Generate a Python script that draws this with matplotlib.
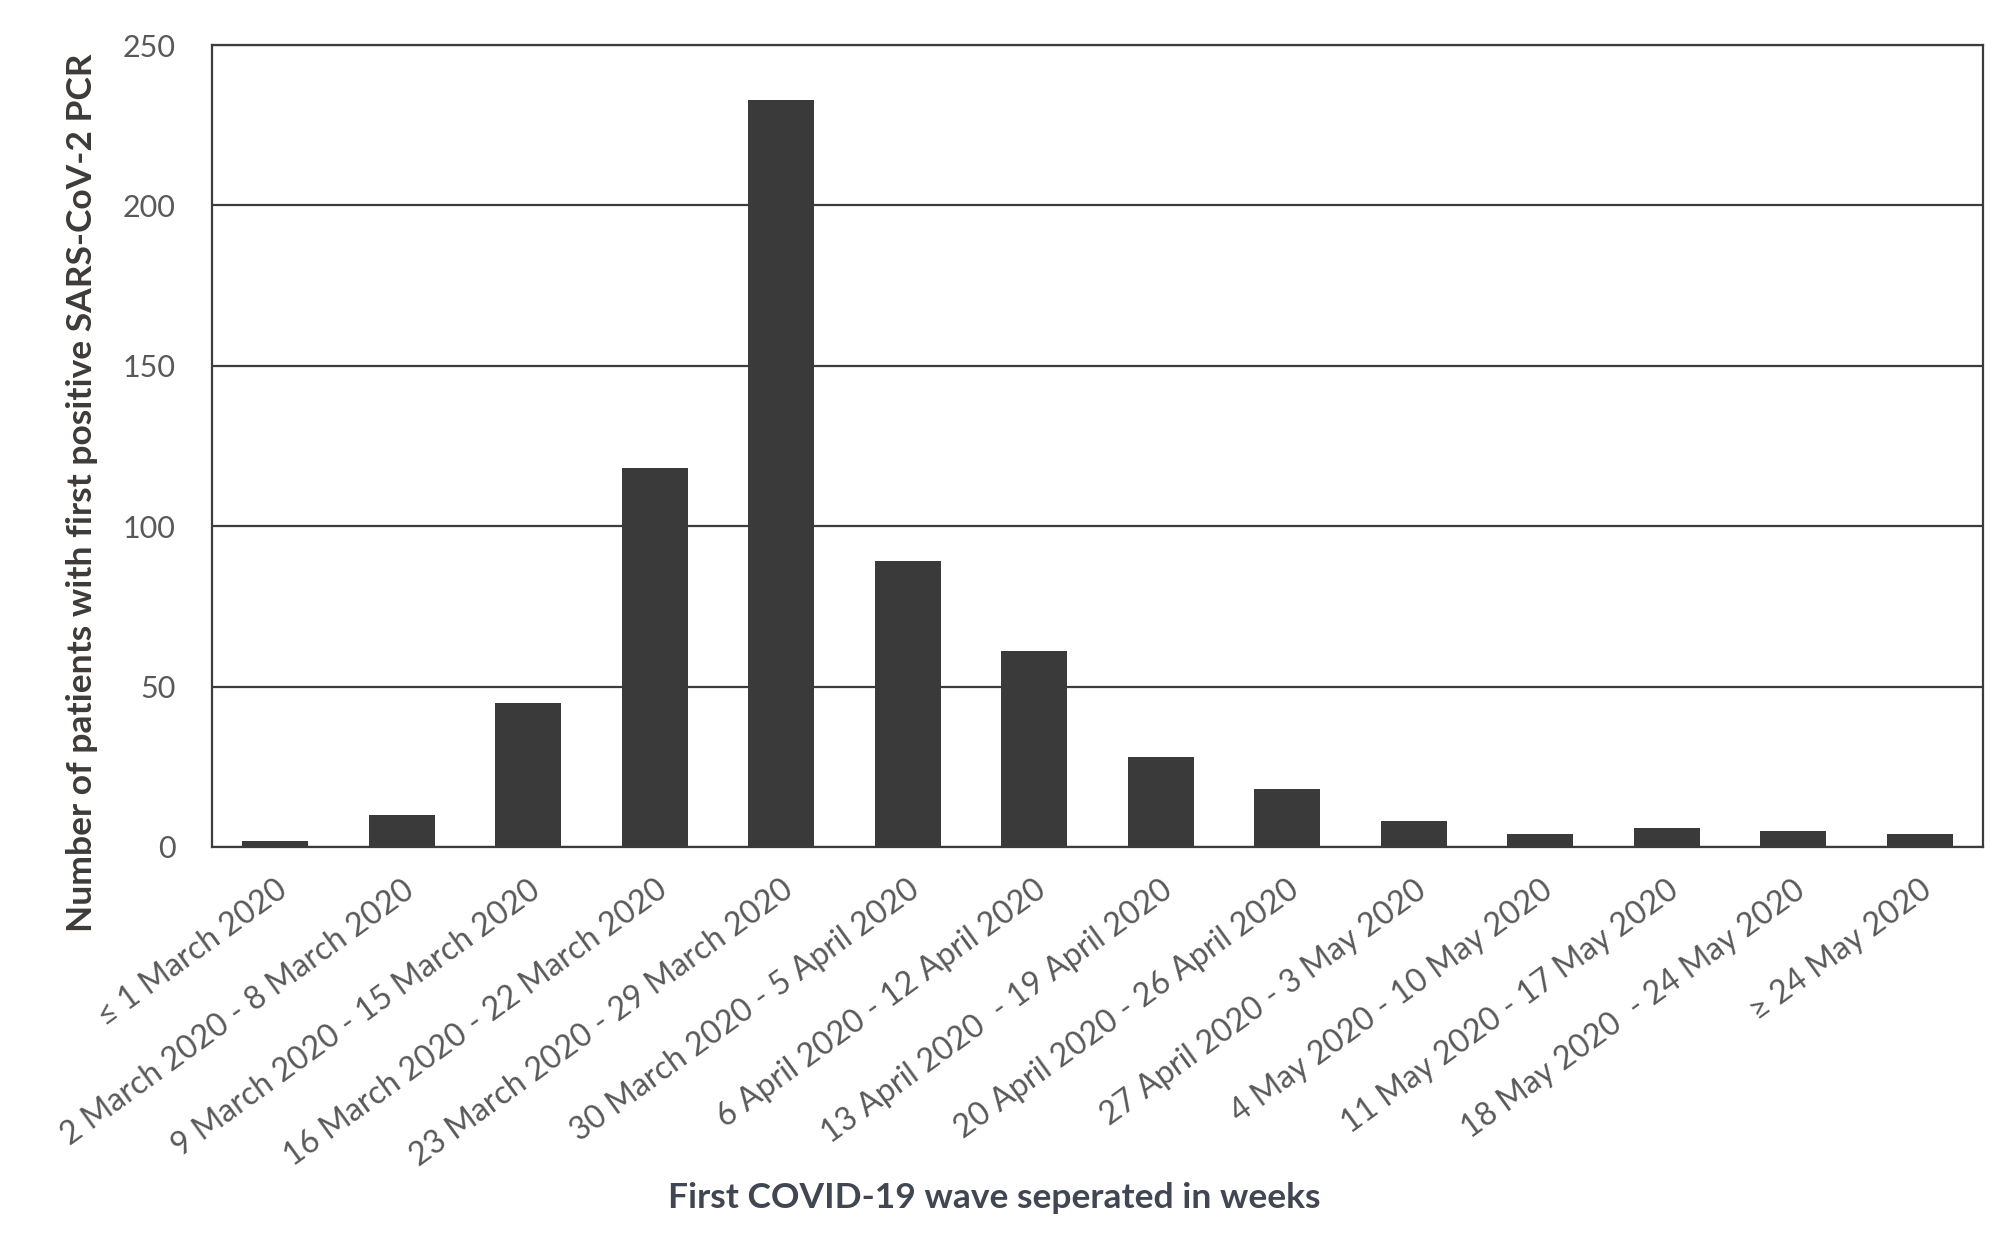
import matplotlib.pyplot as plt

weeks = [
    "\u2264 1 March 2020",
    "2 March 2020 - 8 March 2020",
    "9 March 2020 - 15 March 2020",
    "16 March 2020 - 22 March 2020",
    "23 March 2020 - 29 March 2020",
    "30 March 2020 - 5 April 2020",
    "6 April 2020 - 12 April 2020",
    "13 April 2020  - 19 April 2020",
    "20 April 2020 - 26 April 2020",
    "27 April 2020 - 3 May 2020",
    "4 May 2020 - 10 May 2020",
    "11 May 2020 - 17 May 2020",
    "18 May 2020  - 24 May 2020",
    "\u2265 24 May 2020",
]
patients = [2, 10, 45, 118, 233, 89, 61, 28, 18, 8, 4, 6, 5, 4]
yticks = [0, 50, 100, 150, 200, 250]

plt.rcParams['font.family'] = ['Lato', 'DejaVu Sans']

fig = plt.figure(figsize=(20.09, 12.41), dpi=100)
ax = fig.add_axes([0.1055, 0.3175, 0.8815, 0.6462])

x = list(range(len(weeks)))
ax.bar(x, patients, width=0.52, color='#3a3a3a', zorder=3)

ax.set_ylim(0, 250)
ax.set_xlim(-0.5, len(weeks) - 0.5)
ax.set_yticks(yticks)
ax.yaxis.grid(True, color='#3c3c3c', linewidth=1.6, zorder=0)
ax.set_axisbelow(True)

for s in ax.spines.values():
    s.set_color('#3c3c3c')
    s.set_linewidth(1.6)

ax.tick_params(axis='both', length=0, labelsize=22, colors='#595959')
ax.tick_params(axis='y', pad=26)
ax.tick_params(axis='x', pad=20, labelsize=23)
ax.set_xticks(x)
ax.set_xticklabels(weeks, rotation=36, ha='right', rotation_mode='anchor')

fig.text(0.041, 0.603, "Number of patients with first positive SARS-CoV-2 PCR",
         rotation=90, ha='center', va='center', fontsize=25.5, fontweight='bold',
         color='#3d3a38')
fig.text(0.495, 0.035, "First COVID-19 wave seperated in weeks",
         ha='center', va='center', fontsize=25.5, fontweight='bold', color='#404652')

fig.savefig('out.png', dpi=100)
